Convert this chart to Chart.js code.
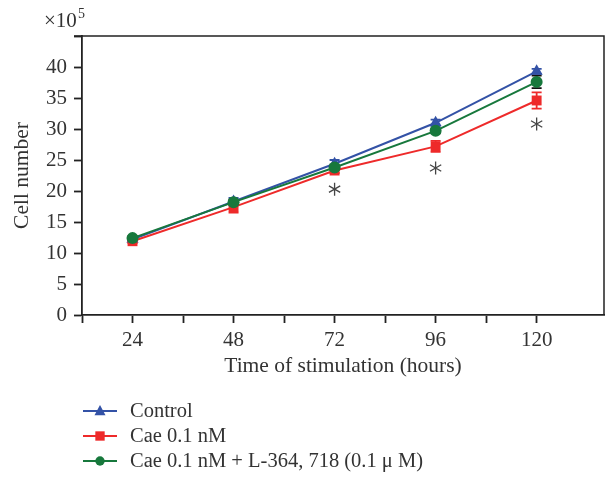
<!DOCTYPE html>
<html>
<head>
<meta charset="utf-8">
<script src="https://cdn.jsdelivr.net/npm/chart.js@4.4.1/dist/chart.umd.min.js"></script>
<style>
html,body{margin:0;padding:0;background:#fff;overflow:hidden;}
#wrap{width:608px;height:477px;position:relative;overflow:hidden;}
</style>
</head>
<body>
<div id="wrap"><canvas id="c" width="611" height="477"></canvas></div>
<script>
// ---- data (values in units of 10^5 cells) ----
const hours = [24, 48, 72, 96, 120];
const controlVals = [12.2, 18.3, 24.4, 31.0, 39.3];
const controlErr  = [0.3, 0.6, 0.6, 0.5, 0.4];
const caeVals     = [11.9, 17.4, 23.3, 27.2, 34.6];
const caeErr      = [0.3, 0.9, 0.4, 0.9, 1.3];
const caeLVals    = [12.4, 18.2, 23.8, 29.7, 37.6];
const caeLErr     = [0.3, 0.4, 0.4, 0.4, 1.0];
const sigHours    = [72, 96, 120];
const sigLevels   = [20.3, 23.7, 30.8];
const seriesNames = ['Control', 'Cae 0.1 nM', 'Cae 0.1 nM + L-364, 718 (0.1 \u03BC M)'];
const xTickValues = [12, 24, 36, 48, 60, 72, 84, 96, 108, 120];
const yTickMax = 45;

const BLUE = '#3352a6', RED = '#ee2a2a', GREEN = '#17783c', TXT = '#333333', AX = '#222222';
const FONT = "'Liberation Serif', 'Times New Roman', serif";

function pts(vals){ return hours.map((h,i)=>({x:h, y:vals[i]})); }

const errSets = [
  {vals: controlVals, err: controlErr, color: BLUE},
  {vals: caeVals, err: caeErr, color: RED},
  {vals: caeLVals, err: caeLErr, color: '#111111'}
];

function drawMarker(ctx, style, x, y, r, color){
  ctx.save();
  ctx.fillStyle = color;
  ctx.beginPath();
  if (style === 'triangle'){
    ctx.moveTo(x, y - r*1.1);
    ctx.lineTo(x + r, y + r*0.75);
    ctx.lineTo(x - r, y + r*0.75);
    ctx.closePath();
  } else if (style === 'rect'){
    ctx.rect(x - r*0.85, y - r*0.85, r*1.7, r*1.7);
  } else {
    ctx.arc(x, y, r*0.85, 0, Math.PI*2);
  }
  ctx.fill();
  ctx.restore();
}

const extras = {
  id: 'extras',
  beforeDatasetsDraw(chart){
    const {ctx, scales:{x, y}} = chart;
    ctx.save();
    ctx.lineWidth = 1.8;
    errSets.forEach(s=>{
      ctx.strokeStyle = s.color;
      hours.forEach((h,i)=>{
        const px = x.getPixelForValue(h);
        const y1 = y.getPixelForValue(s.vals[i] + s.err[i]);
        const y2 = y.getPixelForValue(s.vals[i] - s.err[i]);
        ctx.beginPath();
        ctx.moveTo(px, y1); ctx.lineTo(px, y2);
        ctx.moveTo(px-5, y1); ctx.lineTo(px+5, y1);
        ctx.moveTo(px-5, y2); ctx.lineTo(px+5, y2);
        ctx.stroke();
      });
    });
    ctx.restore();
  },
  afterDraw(chart){
    const {ctx, chartArea:a, scales:{x, y}} = chart;
    ctx.save();
    // box top & right
    ctx.strokeStyle = AX; ctx.lineWidth = 1.5;
    ctx.beginPath();
    ctx.moveTo(a.left - 8, a.top); ctx.lineTo(a.right, a.top); ctx.lineTo(a.right, a.bottom);
    ctx.stroke();
    // asterisks
    ctx.strokeStyle = '#444'; ctx.lineWidth = 1.3;
    sigHours.forEach((h,i)=>{
      const cx = x.getPixelForValue(h), cy = y.getPixelForValue(sigLevels[i]);
      const r = 6.5;
      ctx.beginPath();
      for (let k=0;k<3;k++){
        const ang = Math.PI/2 + k*Math.PI/3;
        ctx.moveTo(cx + r*Math.cos(ang), cy + r*Math.sin(ang));
        ctx.lineTo(cx - r*Math.cos(ang), cy - r*Math.sin(ang));
      }
      ctx.stroke();
    });
    // x10^5 label
    ctx.fillStyle = TXT;
    ctx.textBaseline = 'alphabetic';
    ctx.textAlign = 'left';
    ctx.font = "21px " + FONT;
    ctx.fillText('\u00D710', 44, 27);
    ctx.font = "14px " + FONT;
    ctx.fillText('5', 78, 18);
    // legend
    const styles = ['triangle','rect','circle'];
    const colors = [BLUE, RED, GREEN];
    const rows = [411, 436, 461];
    ctx.font = "20.5px " + FONT;
    ctx.textBaseline = 'middle';
    seriesNames.forEach((name,i)=>{
      const ly = rows[i];
      ctx.strokeStyle = colors[i]; ctx.lineWidth = 2;
      ctx.beginPath(); ctx.moveTo(83, ly); ctx.lineTo(117, ly); ctx.stroke();
      drawMarker(ctx, styles[i], 100, ly, 5.5, colors[i]);
      ctx.fillStyle = TXT;
      ctx.fillText(name, 130, ly + 1);
    });
    ctx.restore();
  }
};

const chart = new Chart(document.getElementById('c'), {
  type: 'line',
  data: {
    datasets: [
      {label: seriesNames[0], data: pts(controlVals), borderColor: BLUE, backgroundColor: BLUE,
       pointStyle: 'triangle', pointRadius: 7, borderWidth: 2, order: 2, pointBorderWidth: 0},
      {label: seriesNames[1], data: pts(caeVals), borderColor: RED, backgroundColor: RED,
       pointStyle: 'rect', pointRadius: 7, borderWidth: 2, order: 1, pointBorderWidth: 0},
      {label: seriesNames[2], data: pts(caeLVals), borderColor: GREEN, backgroundColor: GREEN,
       pointStyle: 'circle', pointRadius: 6, borderWidth: 2, order: 0, pointBorderWidth: 0}
    ]
  },
  options: {
    responsive: false,
    animation: false,
    layout: {padding: {left: 0, right: 4, top: 36, bottom: 97}},
    plugins: {legend: {display: false}, tooltip: {enabled: false}},
    elements: {line: {tension: 0}},
    scales: {
      x: {
        type: 'linear', min: 12, max: 136,
        afterBuildTicks(s){ s.ticks = xTickValues.map(v=>({value:v})); },
        afterFit(s){ s.height = 65; s.paddingRight = 0; s.paddingLeft = 0; },
        ticks: {
          autoSkip: false, maxRotation: 0, padding: 5, color: TXT,
          font: {family: FONT, size: 21},
          callback: v => (v % 24 === 0 ? String(v) : '')
        },
        grid: {drawOnChartArea: false, tickLength: 8, tickColor: AX, tickWidth: 1.8},
        border: {color: AX, width: 1.8},
        title: {display: true, text: 'Time of stimulation (hours)', color: TXT,
                font: {family: FONT, size: 21.5}, padding: {top: 0, bottom: 1}}
      },
      y: {
        min: 0, max: yTickMax,
        afterFit(s){ s.width = 82; },
        ticks: {
          stepSize: 5, padding: 7, color: TXT,
          font: {family: FONT, size: 21},
          callback: v => (v === yTickMax ? '' : String(v))
        },
        grid: {drawOnChartArea: false, tickLength: 8, tickColor: AX, tickWidth: 1.8},
        border: {color: AX, width: 1.8},
        title: {display: true, text: 'Cell number', color: TXT,
                font: {family: FONT, size: 21.5}, padding: {top: 9, bottom: 0}}
      }
    }
  },
  plugins: [extras]
});
</script>
</body>
</html>
